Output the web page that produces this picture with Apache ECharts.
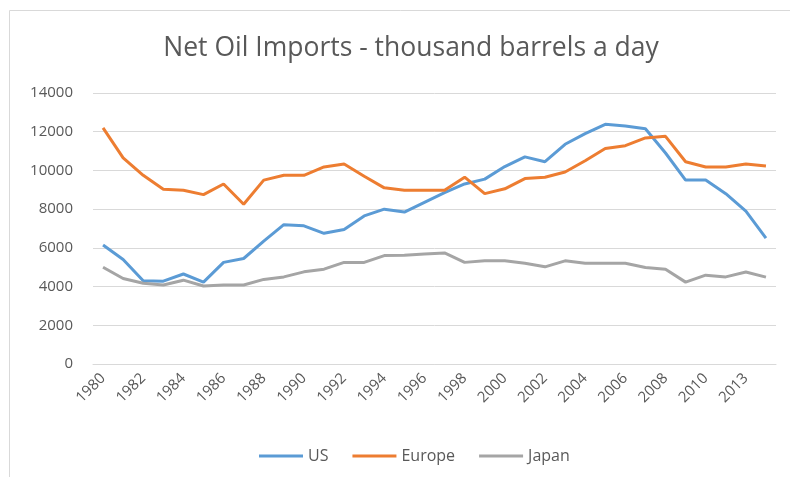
<!DOCTYPE html>
<html lang="en">
<head>
    <meta charset="UTF-8">
    <title>Net Oil Imports</title>
    <script src="https://cdn.jsdelivr.net/npm/echarts@6/dist/echarts.min.js"></script>
    <style>
        html, body { margin: 0; padding: 0; background: #fff; }
        #main { width: 790px; height: 477px; }
    </style>
</head>
<body>
<div id="main"></div>
<script>
    // years (the reference skips 2012)
    var years = ['1980', '1981', '1982', '1983', '1984', '1985', '1986', '1987', '1988', '1989',
        '1990', '1991', '1992', '1993', '1994', '1995', '1996', '1997', '1998', '1999',
        '2000', '2001', '2002', '2003', '2004', '2005', '2006', '2007', '2008', '2009',
        '2010', '2011', '2013', '2014'];

    var us = [6150, 5400, 4300, 4280, 4650, 4230, 5250, 5450, 6350, 7200,
        7140, 6750, 6950, 7650, 8000, 7850, 8350, 8850, 9300, 9550,
        10200, 10700, 10450, 11350, 11900, 12380, 12300, 12150, 10900, 9500,
        9500, 8800, 7900, 6500];

    var europe = [12200, 10650, 9750, 9030, 8980, 8750, 9300, 8250, 9500, 9750,
        9750, 10180, 10330, 9700, 9100, 8980, 8980, 8980, 9650, 8800,
        9050, 9580, 9650, 9920, 10500, 11130, 11280, 11680, 11760, 10450,
        10180, 10180, 10330, 10230];

    var japan = [5000, 4420, 4170, 4080, 4330, 4030, 4080, 4080, 4370, 4500,
        4760, 4900, 5250, 5250, 5600, 5620, 5680, 5740, 5250, 5330,
        5330, 5200, 5020, 5330, 5200, 5200, 5200, 4990, 4900, 4230,
        4590, 4500, 4750, 4490];

    var txt = '#595959';
    var font = '"Open Sans", "Noto Sans", sans-serif';

    var myChart = echarts.init(document.getElementById('main'));

    function line(name, data, color) {
        return {
            name: name,
            type: 'line',
            data: data,
            symbol: 'none',
            lineStyle: {color: color, width: 3},
            itemStyle: {color: color}
        };
    }

    var option = {
        animation: false,
        textStyle: {fontFamily: font},
        graphic: [{
            type: 'rect',
            shape: {x: 9.5, y: 10.5, width: 900, height: 600},
            style: {fill: 'none', stroke: '#d9d9d9', lineWidth: 1},
            silent: true
        }],
        title: {
            text: 'Net Oil Imports - thousand barrels a day',
            left: 406,
            textAlign: 'center',
            top: 30,
            textStyle: {color: txt, fontSize: 26.5, fontWeight: 'normal', fontFamily: font}
        },
        legend: {
            bottom: 8,
            left: 254,
            icon: 'rect',
            itemWidth: 44,
            itemHeight: 3,
            itemGap: 24,
            textStyle: {color: txt, fontSize: 16, fontFamily: font},
            data: ['US', 'Europe', 'Japan']
        },
        grid: {left: 93, right: 14, top: 93, bottom: 113},
        xAxis: {
            type: 'category',
            data: years,
            boundaryGap: true,
            axisLine: {show: true, lineStyle: {color: '#d9d9d9'}},
            axisTick: {show: false},
            axisLabel: {
                interval: 1,
                rotate: 45,
                color: txt,
                fontSize: 15,
                margin: 12
            }
        },
        yAxis: {
            type: 'value',
            min: 0,
            max: 14000,
            interval: 2000,
            axisLine: {show: false},
            axisTick: {show: false},
            splitLine: {lineStyle: {color: '#d9d9d9'}},
            axisLabel: {
                color: txt,
                fontSize: 15,
                margin: 20,
                formatter: function (v) { return String(v); }
            }
        },
        series: [
            line('US', us, '#5b9bd5'),
            line('Europe', europe, '#ed7d31'),
            line('Japan', japan, '#a5a5a5')
        ]
    };

    myChart.setOption(option);
</script>
</body>
</html>
